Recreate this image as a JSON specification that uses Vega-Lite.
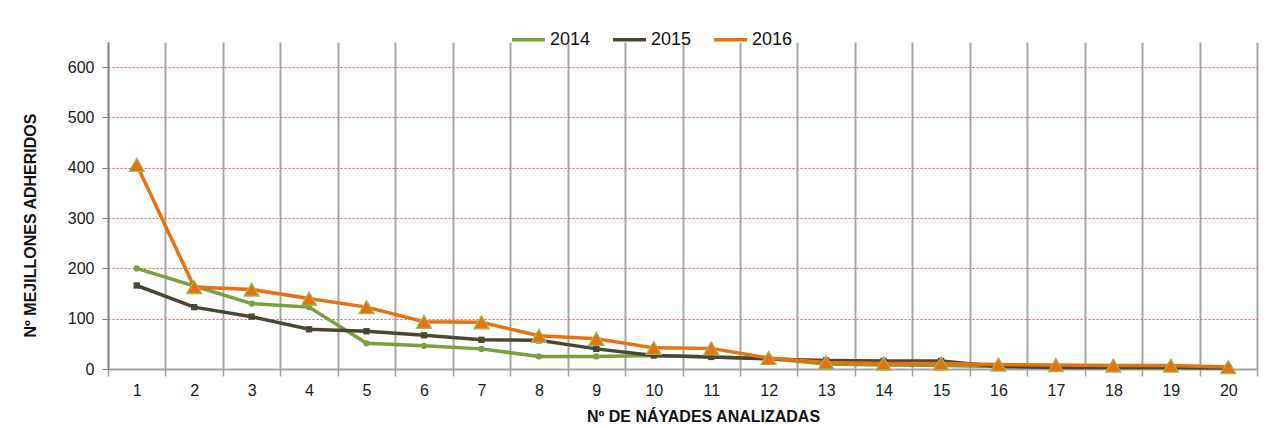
{
  "$schema": "https://vega.github.io/schema/vega-lite/v6.json",
  "width": 1149,
  "height": 327,
  "autosize": {"type": "none"},
  "padding": {"left": 108, "top": 42, "right": 24, "bottom": 59},
  "background": "white",
  "config": {
    "font": "Liberation Sans",
    "view": {"stroke": null},
    "axis": {"labelFont": "Liberation Sans", "titleFont": "Liberation Sans"}
  },
  "data": {
    "values": [
      {"n": 1, "year": "2014", "value": 200}, {"n": 2, "year": "2014", "value": 165}, {"n": 3, "year": "2014", "value": 130}, {"n": 4, "year": "2014", "value": 123}, {"n": 5, "year": "2014", "value": 51}, {"n": 6, "year": "2014", "value": 46}, {"n": 7, "year": "2014", "value": 40}, {"n": 8, "year": "2014", "value": 25}, {"n": 9, "year": "2014", "value": 25}, {"n": 10, "year": "2014", "value": 27}, {"n": 11, "year": "2014", "value": 24}, {"n": 12, "year": "2014", "value": 21}, {"n": 13, "year": "2014", "value": 10}, {"n": 14, "year": "2014", "value": 8}, {"n": 15, "year": "2014", "value": 7}, {"n": 16, "year": "2014", "value": 5}, {"n": 17, "year": "2014", "value": 4}, {"n": 18, "year": "2014", "value": 3}, {"n": 19, "year": "2014", "value": 3}, {"n": 20, "year": "2014", "value": 2},
      {"n": 1, "year": "2015", "value": 166}, {"n": 2, "year": "2015", "value": 123}, {"n": 3, "year": "2015", "value": 104}, {"n": 4, "year": "2015", "value": 79}, {"n": 5, "year": "2015", "value": 75}, {"n": 6, "year": "2015", "value": 67}, {"n": 7, "year": "2015", "value": 58}, {"n": 8, "year": "2015", "value": 57}, {"n": 9, "year": "2015", "value": 40}, {"n": 10, "year": "2015", "value": 27}, {"n": 11, "year": "2015", "value": 24}, {"n": 12, "year": "2015", "value": 20}, {"n": 13, "year": "2015", "value": 17}, {"n": 14, "year": "2015", "value": 16}, {"n": 15, "year": "2015", "value": 16}, {"n": 16, "year": "2015", "value": 5}, {"n": 17, "year": "2015", "value": 3}, {"n": 18, "year": "2015", "value": 3}, {"n": 19, "year": "2015", "value": 3}, {"n": 20, "year": "2015", "value": 2},
      {"n": 1, "year": "2016", "value": 406}, {"n": 2, "year": "2016", "value": 163}, {"n": 3, "year": "2016", "value": 158}, {"n": 4, "year": "2016", "value": 140}, {"n": 5, "year": "2016", "value": 123}, {"n": 6, "year": "2016", "value": 94}, {"n": 7, "year": "2016", "value": 93}, {"n": 8, "year": "2016", "value": 66}, {"n": 9, "year": "2016", "value": 60}, {"n": 10, "year": "2016", "value": 42}, {"n": 11, "year": "2016", "value": 41}, {"n": 12, "year": "2016", "value": 22}, {"n": 13, "year": "2016", "value": 13}, {"n": 14, "year": "2016", "value": 11}, {"n": 15, "year": "2016", "value": 11}, {"n": 16, "year": "2016", "value": 9}, {"n": 17, "year": "2016", "value": 8}, {"n": 18, "year": "2016", "value": 7}, {"n": 19, "year": "2016", "value": 7}, {"n": 20, "year": "2016", "value": 4}
    ]
  },
  "encoding": {
    "x": {
      "field": "n", "type": "ordinal", "bandPosition": 0.5,
      "scale": {"type": "band", "paddingInner": 0, "paddingOuter": 0},
      "axis": {
        "title": "Nº DE NÁYADES ANALIZADAS",
        "titleFontSize": 16, "titleFontWeight": "bold", "titleColor": "#111111",
        "titleX": 595, "titleY": 52, "titleBaseline": "alphabetic", "titleAlign": "center",
        "labelAngle": 0, "labelFontSize": 16, "labelColor": "#1a1a1a", "labelPadding": 6,
        "tickBand": "extent", "tickSize": 7, "tickColor": "#a0a0a0", "tickWidth": 1.5,
        "domainColor": "#a6a6a6", "domainWidth": 2,
        "grid": true, "gridColor": "#a6a6a6", "gridWidth": 2, "gridOpacity": 1
      }
    },
    "y": {
      "field": "value", "type": "quantitative",
      "scale": {"domain": [0, 650], "nice": false},
      "axis": {
        "title": "Nº MEJILLONES ADHERIDOS",
        "titleFontSize": 16, "titleFontWeight": "bold", "titleColor": "#111111",
        "titleAngle": -90, "titleX": -78, "titleY": 183, "titleAlign": "center", "titleBaseline": "middle",
        "values": [0, 100, 200, 300, 400, 500, 600],
        "labelFontSize": 16, "labelColor": "#1a1a1a", "labelPadding": 8,
        "tickSize": 6, "tickColor": "#808080",
        "domainColor": "#808080", "domainWidth": 1.5,
        "grid": true,
        "gridColor": {"condition": {"test": "datum.value === 0", "value": "transparent"}, "value": "#e06060"},
        "gridDash": [2, 2], "gridWidth": 1
      }
    }
  },
  "layer": [
    {
      "mark": {"type": "line", "strokeWidth": 3.5},
      "encoding": {
        "color": {
          "field": "year", "type": "nominal",
          "scale": {"domain": ["2014", "2015", "2016"], "range": ["#79a03f", "#4a4632", "#e8700e"]},
          "legend": {
            "title": null, "orient": "none", "direction": "horizontal",
            "legendX": 402, "legendY": -21,
            "symbolType": "stroke", "symbolSize": 1089, "symbolStrokeWidth": 3.5,
            "labelFontSize": 18, "labelColor": "#111111", "labelOffset": 3,
            "columnPadding": 15
          }
        }
      }
    },
    {
      "mark": {"type": "point", "filled": true, "opacity": 1, "strokeWidth": 1.2},
      "encoding": {
        "color": {"field": "year", "type": "nominal", "legend": null},
        "shape": {
          "field": "year", "type": "nominal",
          "scale": {"domain": ["2014", "2015", "2016"], "range": ["circle", "square", "triangle-up"]},
          "legend": null
        },
        "size": {
          "condition": {"test": "datum.year === '2016'", "value": 230},
          "value": 40
        },
        "stroke": {
          "condition": {"test": "datum.year === '2016'", "value": "#9bbb59"},
          "value": null
        }
      }
    }
  ],
  "resolve": {"legend": {"color": "independent", "shape": "independent"}}
}
